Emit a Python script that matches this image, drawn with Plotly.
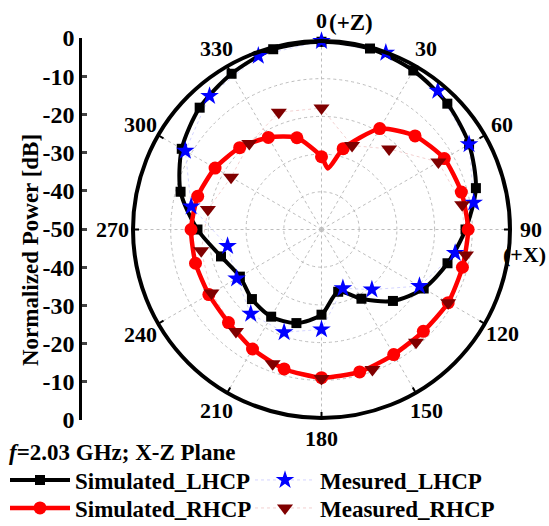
import math
import plotly.graph_objects as go

# ---------------- data ----------------
sim_angles = list(range(0, 360, 15))
sim_lhcp = [-0.2, -0.3, -1.3, -2.8, -4.8, -7.6, -11.8, -15.4, -18.7, -23.2, -28.8, -32.9,
            -27.4, -24.3, -23.3, -23.9, -25.0, -22.4, -17.1, -11.3, -7.2, -4.3, -2.3, -0.5]
sim_rhcp = [-30.7, -27.8, -19.1, -14.9, -12.4, -11.6, -11.1, -11.3, -11.2, -11.8, -11.7, -10.9,
            -10.7, -11.7, -13.4, -15.1, -15.5, -15.4, -15.4, -16.0, -17.4, -19.3, -21.8, -24.8]
# extra point of the simulated RHCP curve (the notch just right of 0 deg)
rhcp_notch_angle = [6]
rhcp_notch_value = [-33.7]

meas_angles = list(range(0, 360, 20))
meas_lhcp = [0.0, -0.1, -2.0, -4.8, -9.0, -14.0, -20.0, -29.2, -33.4, -23.5, -21.0, -20.8,
             -24.0, -24.7, -14.9, -8.3, -3.8, -1.0]
meas_rhcp = [-17.8, -26.3, -22.1, -14.2, -12.1, -11.1, -11.2, -11.0, -10.5, -10.5, -12.1, -14.7,
             -16.3, -17.6, -19.4, -22.3, -20.2, -16.9]

angle_ticks = list(range(0, 360, 30))
angle_labels = ["0", "30", "60", "90", "120", "150", "180", "210", "240", "270", "300", "330"]
radial_grid = [-40, -30, -20, -10]
left_axis_labels = ["0", "-10", "-20", "-30", "-40", "-50", "-40", "-30", "-20", "-10", "0"]

names = ["Simulated_LHCP", "Mesured_LHCP", "Simulated_RHCP", "Measured_RHCP"]

# ---------------- styling / layout ----------------
FONT = "Liberation Serif"
BLACK = "#000000"
RED = "#ff0000"
BLUE = "#0000ff"
MAROON = "#800000"
R_MIN, R_MAX = -50, 0
TICK_DB = 1.6  # inward tick length on the outer ring, in dB units

W, H = 549, 526
POLAR_X = (133, 510)   # pixel extent of the polar domain
POLAR_Y = (40, 419)
LABEL_RADIUS = 209     # px, centre of angular labels


def px(x):
    return x / W


def py(y):
    return (H - y) / H


def bold(size):
    return dict(family=FONT, size=size, color=BLACK, weight="bold")


cx = (POLAR_X[0] + POLAR_X[1]) / 2
cy = (POLAR_Y[0] + POLAR_Y[1]) / 2

# closed curves
lh_theta = sim_angles + [sim_angles[0] + 360]
lh_r = sim_lhcp + [sim_lhcp[0]]
rh_pairs = sorted(list(zip(sim_angles, sim_rhcp)) + list(zip(rhcp_notch_angle, rhcp_notch_value)))
rh_theta = [a for a, _ in rh_pairs] + [rh_pairs[0][0] + 360]
rh_r = [v for _, v in rh_pairs] + [rh_pairs[0][1]]

# inward tick marks on the outer ring
tick_theta, tick_r = [], []
for a in angle_ticks:
    tick_theta += [a, a, None]
    tick_r += [R_MAX - TICK_DB, R_MAX, None]

fig = go.Figure()

fig.add_trace(go.Scatterpolar(theta=tick_theta, r=tick_r, mode="lines",
                              line=dict(color=BLACK, width=2), showlegend=False, hoverinfo="skip"))

# faint dotted lines joining measured points
fig.add_trace(go.Scatterpolar(theta=meas_angles + [360], r=meas_lhcp + [meas_lhcp[0]], mode="lines",
                              line=dict(color="#d4d4ff", width=1, dash="dot"),
                              showlegend=False, hoverinfo="skip"))
fig.add_trace(go.Scatterpolar(theta=meas_angles + [360], r=meas_rhcp + [meas_rhcp[0]], mode="lines",
                              line=dict(color="#f2d0d0", width=1, dash="dot"),
                              showlegend=False, hoverinfo="skip"))

# simulated curves
fig.add_trace(go.Scatterpolar(theta=lh_theta, r=lh_r, mode="lines",
                              line=dict(color=BLACK, width=4, shape="spline", smoothing=0.8),
                              showlegend=False, hoverinfo="skip"))
fig.add_trace(go.Scatterpolar(theta=sim_angles, r=sim_lhcp, mode="markers",
                              marker=dict(symbol="square", size=10, color=BLACK),
                              showlegend=False))
fig.add_trace(go.Scatterpolar(theta=rh_theta, r=rh_r, mode="lines",
                              line=dict(color=RED, width=4.5, shape="spline", smoothing=0.6),
                              showlegend=False, hoverinfo="skip"))
fig.add_trace(go.Scatterpolar(theta=sim_angles, r=sim_rhcp, mode="markers",
                              marker=dict(symbol="circle", size=13, color=RED),
                              showlegend=False))

# measured markers
fig.add_trace(go.Scatterpolar(theta=meas_angles, r=meas_lhcp, mode="markers",
                              marker=dict(symbol="star", size=14, color=BLUE),
                              showlegend=False))
fig.add_trace(go.Scatterpolar(theta=meas_angles, r=meas_rhcp, mode="markers",
                              marker=dict(symbol="triangle-down", size=14, color=MAROON),
                              showlegend=False))

# legend entries, one legend box per entry (2 x 2 grid like the reference)
legend_ids = ["legend", "legend2", "legend3", "legend4"]
fig.add_trace(go.Scatterpolar(theta=[None], r=[None], mode="lines+markers", name=names[0],
                              legend=legend_ids[0], line=dict(color=BLACK, width=4),
                              marker=dict(symbol="square", size=10, color=BLACK)))
fig.add_trace(go.Scatterpolar(theta=[None], r=[None], mode="lines+markers", name=names[1],
                              legend=legend_ids[1], line=dict(color="#d4d4ff", width=1, dash="dot"),
                              marker=dict(symbol="star", size=14, color=BLUE)))
fig.add_trace(go.Scatterpolar(theta=[None], r=[None], mode="lines+markers", name=names[2],
                              legend=legend_ids[2], line=dict(color=RED, width=4.5),
                              marker=dict(symbol="circle", size=13, color=RED)))
fig.add_trace(go.Scatterpolar(theta=[None], r=[None], mode="lines+markers", name=names[3],
                              legend=legend_ids[3], line=dict(color="#f2d0d0", width=1, dash="dot"),
                              marker=dict(symbol="triangle-down", size=14, color=MAROON)))

# invisible cartesian trace so the left axis is drawn
fig.add_trace(go.Scatter(x=[None], y=[None], xaxis="x", yaxis="y", showlegend=False, hoverinfo="skip"))

legend_common = dict(orientation="v", xanchor="left", yanchor="middle", itemwidth=60,
                     font=bold(23), bgcolor="rgba(0,0,0,0)")
legend_cols = [5, 250]
legend_rows = [480, 508]

# angular labels placed around the ring (MATLAB style, centred on a circle)
ring_annotations = []
for a, lab in zip(angle_ticks, angle_labels):
    rad = math.radians(a)
    ring_annotations.append(dict(
        text=lab, x=px(cx + LABEL_RADIUS * math.sin(rad)), y=py(cy - LABEL_RADIUS * math.cos(rad)),
        xref="paper", yref="paper", showarrow=False, xanchor="center", yanchor="middle",
        font=bold(22)))

fig.update_layout(
    width=W, height=H, autosize=False,
    margin=dict(l=0, r=0, t=0, b=0, autoexpand=False),
    paper_bgcolor="white", plot_bgcolor="rgba(0,0,0,0)",
    font=bold(22),
    polar=dict(
        domain=dict(x=[px(POLAR_X[0]), px(POLAR_X[1])], y=[py(POLAR_Y[1]), py(POLAR_Y[0])]),
        bgcolor="white",
        radialaxis=dict(range=[R_MIN, R_MAX], tickvals=radial_grid, showticklabels=False, ticks="",
                        showline=False, gridcolor="#bdbdbd", griddash="dot", gridwidth=1),
        angularaxis=dict(rotation=90, direction="clockwise", tickmode="array",
                         tickvals=angle_ticks, ticktext=angle_labels, showticklabels=False,
                         ticks="",
                         showline=True, linecolor=BLACK, linewidth=4,
                         gridcolor="#bdbdbd", griddash="dot", gridwidth=1),
    ),
    xaxis=dict(domain=[px(82), 0.3], visible=False, range=[0, 1]),
    yaxis=dict(anchor="x", domain=[py(420), py(38)], range=[100, 0],
               tickmode="array", tickvals=[i * 10 for i in range(len(left_axis_labels))],
               ticktext=left_axis_labels, ticks="inside", ticklen=5, tickwidth=2.5,
               showline=True, linewidth=2.5, linecolor=BLACK, showgrid=False, zeroline=False,
               tickfont=bold(24)),
    legend=dict(x=px(legend_cols[0]), y=py(legend_rows[0]), **legend_common),
    legend2=dict(x=px(legend_cols[1]), y=py(legend_rows[0]), **legend_common),
    legend3=dict(x=px(legend_cols[0]), y=py(legend_rows[1]), **legend_common),
    legend4=dict(x=px(legend_cols[1]), y=py(legend_rows[1]), **legend_common),
    annotations=ring_annotations + [
        dict(text="Normalized Power [dB]", x=px(31), y=py(250), xref="paper", yref="paper",
             textangle=-90, showarrow=False, xanchor="center", yanchor="middle", font=bold(23)),
        dict(text="<i>f</i>=2.03 GHz; X-Z Plane", x=px(7), y=py(452), xref="paper", yref="paper",
             showarrow=False, xanchor="left", yanchor="middle", font=bold(23)),
        dict(text="(+Z)", x=px(327), y=py(23), xref="paper", yref="paper",
             showarrow=False, xanchor="left", yanchor="middle", font=bold(23)),
        dict(text="(+X)", x=px(501), y=py(254), xref="paper", yref="paper",
             showarrow=False, xanchor="left", yanchor="middle", font=bold(22)),
    ],
)

fig.write_html("out.html")
